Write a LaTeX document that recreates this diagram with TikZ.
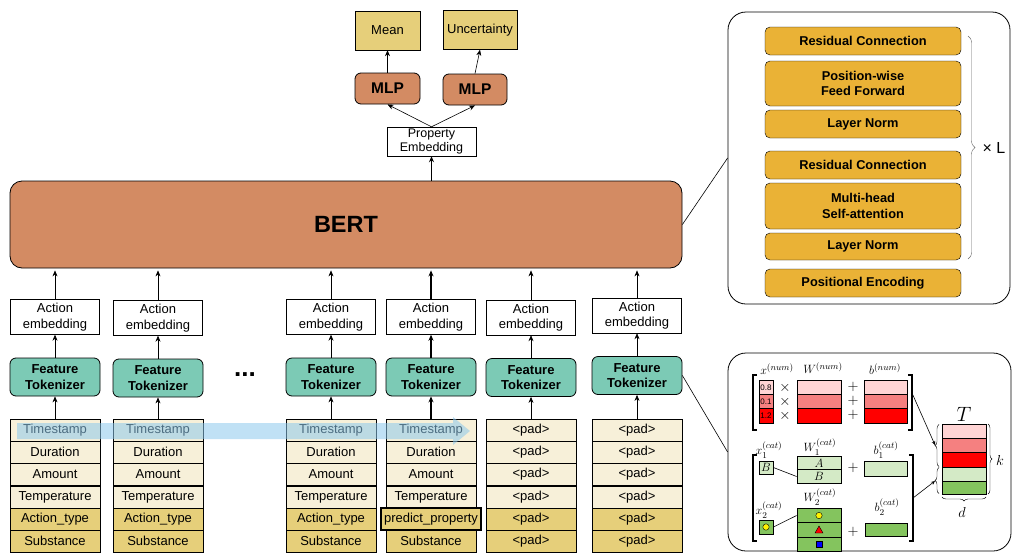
\documentclass[tikz,border=0pt]{standalone}
\usepackage{fontspec}
\setmainfont{Liberation Sans}
\usepackage{amsmath}
\usetikzlibrary{arrows.meta,positioning,calc,decorations.pathreplacing}

\definecolor{bertc}{RGB}{211,139,99}
\definecolor{tokc}{RGB}{124,202,181}
\definecolor{lightrow}{RGB}{247,240,217}
\definecolor{darkrow}{RGB}{230,207,122}
\definecolor{layerc}{RGB}{234,178,54}
\definecolor{pinkA}{RGB}{255,212,212}
\definecolor{pinkB}{RGB}{245,128,128}
\definecolor{pinkC}{RGB}{255,0,0}
\definecolor{greenA}{RGB}{212,234,198}
\definecolor{greenB}{RGB}{132,196,94}
\definecolor{hlblue}{RGB}{140,200,236}

\begin{document}
\begin{tikzpicture}[x=1pt,y=-1pt,>={Stealth[length=6pt,width=5pt]},semithick,
	font=\fontsize{13}{15.5}\selectfont,
	lrow/.style={draw=black,fill=lightrow,minimum width=90pt,minimum height=22.2pt,inner sep=0pt},
	drow/.style={lrow,fill=darkrow},
	prow/.style={lrow,fill=darkrow,line width=2.4pt,minimum width=100pt},
	tokbox/.style={draw=black,thick,fill=tokc,rounded corners=6pt,minimum width=90pt,minimum height=38pt,align=center,font=\fontsize{13}{15.5}\selectfont\bfseries},
	embbox/.style={draw=black,thin,fill=white,minimum width=89pt,minimum height=35pt,align=center,inner sep=1pt},
	mlpbox/.style={draw=black,thick,fill=bertc,rounded corners=6pt,minimum width=65pt,minimum height=31pt,font=\fontsize{15.5}{18}\selectfont\bfseries},
	outbox/.style={draw=black,thin,fill=darkrow,minimum height=39pt,inner sep=1pt},
	layer/.style={draw=black,thin,fill=layerc,rounded corners=5pt,minimum width=196pt,minimum height=28pt,align=center,font=\fontsize{12.8}{15.5}\selectfont\bfseries},
	panel/.style={draw=black,thick,rounded corners=18pt},
	mcell/.style={draw=black,line width=0.8pt,inner sep=0pt,minimum height=14.3pt},
	mlab/.style={font=\fontsize{12.5}{14}\selectfont,inner sep=0pt},
	msym/.style={font=\fontsize{14.4}{14.4}\selectfont,inner sep=0pt},
	brk/.style={line width=1.6pt},
	brc/.style={decorate,decoration={brace,amplitude=4pt},thin}]
	\path[use as bounding box,clip] (0,0) rectangle (1012,552);

	% token stacks
	\foreach \c/\x/\t/\s in {a/55/Action\_type/drow,b/158/Action\_type/drow,c/331/Action\_type/drow,d/431/predict\_property/prow}{
		\node[lrow]	(\c1)	at (\x,430)		{Timestamp};
		\node[lrow]	(\c2)	at (\x,452)		{Duration};
		\node[lrow]	(\c3)	at (\x,474.5)	{Amount};
		\node[lrow]	(\c4)	at (\x,497)		{Temperature};
		\node[drow]	(\c6)	at (\x,541)		{Substance};
		\node[\s]	(\c5)	at (\x,519)		{\t};
	}
	\foreach \c/\x in {e/531,f/637}{
		\foreach \r/\y/\s in {1/430/lrow,2/452/lrow,3/474.5/lrow,4/497/lrow,5/519/drow,6/541/drow}
			\node[\s] (\c\r) at (\x,\y) {<pad>};
	}
	\fill[hlblue,opacity=0.55] (17,423) -- (453,423) -- (453,417) -- (470,431) -- (453,445) -- (453,439) -- (17,439) -- cycle;

	% tokenizers and embeddings
	\foreach \c/\x/\y in {a/55/377,b/158/378,c/331/377,d/431/377,e/531/377.5,f/637/375.5}{
		\node[tokbox]	(tok\c)	at (\x,\y)		{Feature\\Tokenizer};
		\node[embbox]	(emb\c)	at (\x,\y-60)	{Action\\embedding};
	}
	\node[font=\fontsize{26}{26}\selectfont\bfseries] (dots) at (245,375) {...};

	\node[draw=black,thick,fill=bertc,rounded corners=12pt,minimum width=672pt,minimum height=87pt,font=\fontsize{23.5}{26}\selectfont\bfseries]
		(bert) at (346,224.5) {BERT};

	\node[embbox,minimum height=29pt,inner sep=0pt,font=\fontsize{12.5}{14}\selectfont]	(prop)	at (431.5,141.5)	{Property\\Embedding};
	\node[mlpbox]						(mlp1)	at (387.5,88.5)		{MLP};
	\node[mlpbox,minimum width=64pt]	(mlp2)	at (475,89.5)		{MLP};
	\node[outbox,minimum width=65pt]	(mean)	at (387.5,30.5)		{Mean};
	\node[outbox,minimum width=74pt]	(unc)	at (480,30)			{Uncertainty};

	\foreach \c in {a,b,c,e,f}{
		\draw[->] (\c1.north) -- (tok\c.south);
		\draw[->] (tok\c.north) -- (emb\c.south);
		\draw[->,shorten >=2pt] (emb\c.north) -- (emb\c.north |- bert.south);
	}
	\path[->,line width=1.6pt]
		(d1.north)		edge	(tokd.south)
		(tokd.north)	edge	(embd.south)
		(embd.north)	edge	[shorten >=2pt]	(embd.north |- bert.south)
		(prop.south |- bert.north)	edge	(prop.south)
	;
	\path[->]
		(prop.north)	edge	(mlp1.south)
		(prop.north)	edge	(mlp2.south)
		(mlp1.north)	edge	(mean.south)
		(mlp2.north)	edge	(unc.south)
	;

	% transformer encoder
	\node[panel,minimum width=282pt,minimum height=292pt]	(enc)	at (869,158)	{};
	\node[layer]						(rc2)	at (863,41)		{Residual Connection};
	\node[layer,minimum height=45pt]	(ff)	at (863,83.5)	{Position-wise\\Feed Forward};
	\node[layer]						(ln2)	at (863,124)	{Layer Norm};
	\node[layer]						(rc1)	at (863,165)	{Residual Connection};
	\node[layer,minimum height=46pt]	(mh)	at (863,206)	{Multi-head\\Self-attention};
	\node[layer,minimum height=27pt]	(ln1)	at (863,246.5)	{Layer Norm};
	\node[layer]						(pe)	at (863,283)	{Positional Encoding};
	\draw[brc,gray!80!black,decoration={amplitude=7pt}] (968,36) -- (968,259);
	\node[anchor=west,font=\fontsize{16}{18}\selectfont] (xl) at (979,148) {× L};
	\draw (bert.east) -- (enc.west);

	% feature tokenizer detail
	\node[panel,minimum width=283pt,minimum height=198pt]	(ftd)	at (869.5,452)	{};
	\draw (tokf.east) -- (ftd.west);

	\node[mlab]	(xnl)	at (777,369)	{$x^{(num)}$};
	\node[mlab]	(wnl)	at (823,368)	{$W^{(num)}$};
	\node[mlab]	(bnl)	at (885,369)	{$b^{(num)}$};
	\foreach \r/\y/\col/\v in {1/387.5/pinkA/0.8,2/402/pinkB/0.1,3/416/pinkC/1.2}{
		\node[mcell,fill=\col,minimum width=14pt,font=\fontsize{8}{8}\selectfont\rmfamily] (xn\r) at (766,\y) {\v};
		\node[msym] (tm\r) at (785,\y) {$\times$};
		\node[mcell,fill=\col,minimum width=44pt] (wn\r) at (819,\y) {};
		\node[msym] (pl\r) at (853,\y-1) {$+$};
		\node[mcell,fill=\col,minimum width=43pt] (bn\r) at (885.5,\y) {};
	}
	\draw[brk] (757,375) -- (753,375) -- (753,430) -- (757,430);
	\draw[brk] (908,375) -- (912,375) -- (912,430) -- (908,430);

	\node[mlab]	(xc1l)	at (769,450)	{$x_1^{(cat)}$};
	\node[mlab]	(wc1l)	at (820,447)	{$W_1^{(cat)}$};
	\node[mlab]	(bc1l)	at (886,450)	{$b_1^{(cat)}$};
	\node[mcell,fill=greenA,minimum width=14pt,minimum height=13pt,font=\fontsize{12}{12}\selectfont] (xc1) at (766,467.5) {$B$};
	\node[mcell,fill=greenA,minimum width=44pt,minimum height=13.5pt,font=\fontsize{12}{12}\selectfont] (wc1a) at (819,463) {$A$};
	\node[mcell,fill=greenA,minimum width=44pt,minimum height=13.5pt,font=\fontsize{12}{12}\selectfont] (wc1b) at (819,476.5) {$B$};
	\node[msym] (plc1) at (853,468) {$+$};
	\node[mcell,fill=greenA,minimum width=43pt,minimum height=15pt] (bc1) at (885.5,468.5) {};
	\draw (xc1.east) -- (wc1b.west);

	\node[mlab]	(xc2l)	at (769,510)	{$x_2^{(cat)}$};
	\node[mlab]	(wc2l)	at (820,497)	{$W_2^{(cat)}$};
	\node[mlab]	(bc2l)	at (887,507)	{$b_2^{(cat)}$};
	\node[mcell,fill=greenB,minimum width=14pt,minimum height=14pt] (xc2) at (766,527) {};
	\fill[yellow,draw=black,thin] (xc2) circle (3.2pt);
	\node[mcell,fill=greenB,minimum width=44pt] (wc2a) at (819,515.5) {};
	\node[mcell,fill=greenB,minimum width=44pt] (wc2b) at (819,530) {};
	\node[mcell,fill=greenB,minimum width=44pt] (wc2c) at (819,544.3) {};
	\fill[yellow,draw=black,thin] (wc2a) circle (3.2pt);
	\fill[red,draw=black,thin] ($(wc2b)+(-4,3)$) -- ($(wc2b)+(4,3)$) -- ($(wc2b)+(0,-4)$) -- cycle;
	\fill[blue,draw=black,thin] ($(wc2c)+(-3.3,-3.3)$) rectangle ($(wc2c)+(3.3,3.3)$);
	\node[msym] (plc2) at (853,532) {$+$};
	\node[mcell,fill=greenB,minimum width=42pt,minimum height=13pt] (bc2) at (886,529.5) {};
	\draw (xc2.east) -- (wc2a.west);
	\draw[brk] (757,455) -- (753,455) -- (753,541) -- (757,541);
	\draw[brk] (909,455) -- (913,455) -- (913,541) -- (909,541);

	\foreach \r/\y/\h/\col in {1/431/14/pinkA,2/445/14/pinkB,3/459.5/15/pinkC,4/474/14/greenA,5/487.5/13/greenB}
		\node[mcell,fill=\col,minimum width=44pt,minimum height=\h pt] (t\r) at (964,\y) {};
	\node[font=\fontsize{22}{22}\selectfont] (tl) at (964,414) {$T$};
	\draw[brc] (939,466.5) -- (939,424.5);
	\draw[brc] (939,493.5) -- (939,467.5);
	\draw[brc] (988,424) -- (988,494);
	\node[font=\fontsize{14}{14}\selectfont] (kl) at (1000,460) {$k$};
	\draw[brc] (986,497) -- (942,497);
	\node[font=\fontsize{14}{14}\selectfont] (dl) at (962,512) {$d$};
	\draw[->,>={Stealth[length=4pt,width=3.5pt]}] (912,393) -- (935,445);
	\draw[->,>={Stealth[length=4pt,width=3.5pt]}] (913,498) -- (935,481);
\end{tikzpicture}
\end{document}
